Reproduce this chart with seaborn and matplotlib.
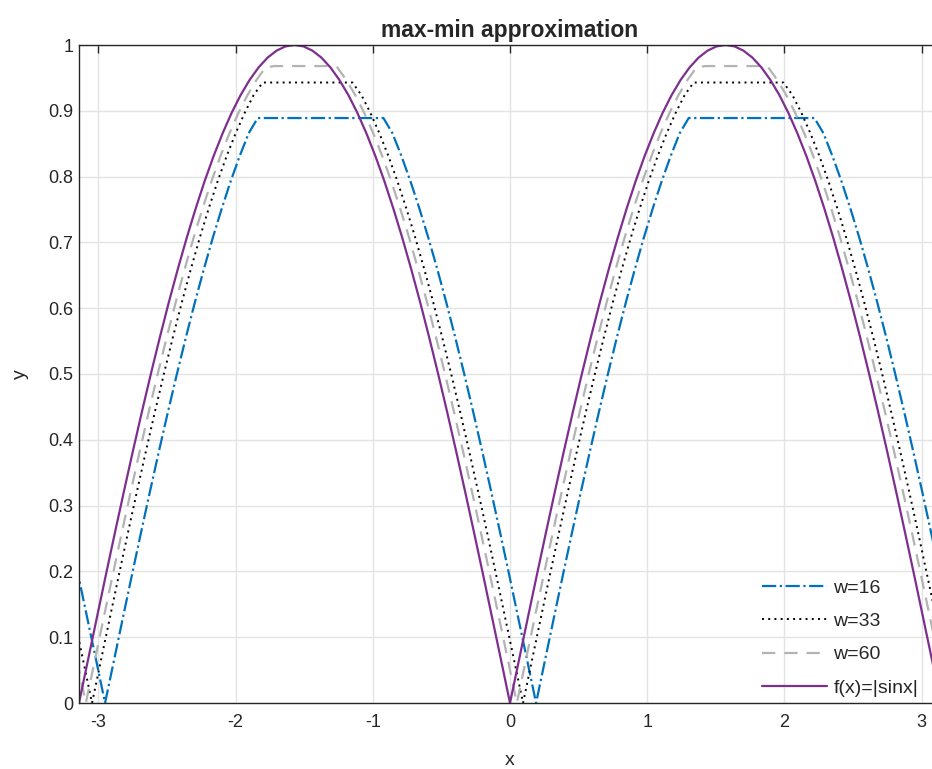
import numpy as np
import pandas as pd
import matplotlib
matplotlib.use("Agg")
import matplotlib.pyplot as plt
import seaborn as sns

# half arch of f(x)=|sin x| read every pi/48 from a zero crossing up to the peak
half_arch = [0, 0.0654, 0.1305, 0.1951, 0.2588, 0.3214, 0.3827, 0.4423, 0.5,
             0.5556, 0.6088, 0.6593, 0.7071, 0.7518, 0.7934, 0.8315, 0.8660,
             0.8969, 0.9239, 0.9469, 0.9659, 0.9808, 0.9914, 0.9979, 1.0]
arch_y = half_arch + half_arch[-2::-1]          # one full arch, 49 samples
arch_dx = np.linspace(0, np.pi, 49)             # sample offsets from the zero

# zero crossing (right of 0) and plateau level read for each max-min curve
zero_f = 0.0
zero_w16, cap_w16 = 0.190, 0.889
zero_w33, cap_w33 = 0.095, 0.943
zero_w60, cap_w60 = 0.050, 0.968

labels = ['w=16', 'w=33', 'w=60', 'f(x)=|sinx|']

x_ticks = [-3, -2, -1, 0, 1, 2, 3]
x_ticklabels = ["-3", "-2", "-1", "0", "1", "2", "3"]
y_ticks = [0, 0.1, 0.2, 0.3, 0.4, 0.5, 0.6, 0.7, 0.8, 0.9, 1]
y_ticklabels = ["0", "0.1", "0.2", "0.3", "0.4", "0.5", "0.6", "0.7", "0.8", "0.9", "1"]


def arches(zero, cap=1.0):
    # three consecutive arches starting at zero-2pi, zero-pi and zero
    xs, ys = [], []
    for start in (zero - 2 * np.pi, zero - np.pi, zero):
        xs.extend(start + arch_dx)
        ys.extend(np.minimum(arch_y, cap))
    return pd.DataFrame({'x': xs, 'y': ys})


sns.set_style("white")
plt.rcParams['font.family'] = ['Liberation Sans', 'DejaVu Sans']

fig = plt.figure(figsize=(9.32, 7.69), dpi=100)
ax = fig.add_axes([79 / 932, 66 / 769, 862 / 932, 658 / 769])

d16 = arches(zero_w16, cap_w16)
d33 = arches(zero_w33, cap_w33)
d60 = arches(zero_w60, cap_w60)
dsin = arches(zero_f)

sns.lineplot(data=d16, x='x', y='y', ax=ax, sort=False, color='#0072BD',
             linewidth=1.6, linestyle='-.', label=labels[0])
sns.lineplot(data=d33, x='x', y='y', ax=ax, sort=False, color='black',
             linewidth=1.4, linestyle=(0, (1, 2.2)), label=labels[1])
sns.lineplot(data=d60, x='x', y='y', ax=ax, sort=False, color='#b3b3b3',
             linewidth=1.6, linestyle=(0, (6, 4)), label=labels[2])
sns.lineplot(data=dsin, x='x', y='y', ax=ax, sort=False, color='#7E2F8E',
             linewidth=1.6, label=labels[3])

ax.set_xlim(-np.pi, np.pi)
ax.set_ylim(0, 1)
ax.set_xticks(x_ticks)
ax.set_xticklabels(x_ticklabels)
ax.set_yticks(y_ticks)
ax.set_yticklabels(y_ticklabels)
ax.grid(True, color='#e3e3e3', linewidth=1.0)
ax.set_axisbelow(True)
ax.tick_params(direction='in', length=6, width=1, colors='#262626',
               labelsize=13, top=True, right=True)
ax.tick_params(axis='x', pad=8)
ax.tick_params(axis='y', pad=4)
for sp in ax.spines.values():
    sp.set_color('#262626')
    sp.set_linewidth(1.0)

ax.set_title('max-min approximation', fontsize=16.5, fontweight='bold', pad=6)
ax.set_xlabel('x', fontsize=14, color='#262626', labelpad=15)
ax.set_ylabel('y', fontsize=14, color='#262626', labelpad=14)

ax.legend(loc='lower right', bbox_to_anchor=(0.987, -0.008), frameon=False,
          fontsize=14, handlelength=3.35, handletextpad=0.3,
          labelspacing=0.8, borderaxespad=0.2)

fig.savefig('out.png', dpi=100)
